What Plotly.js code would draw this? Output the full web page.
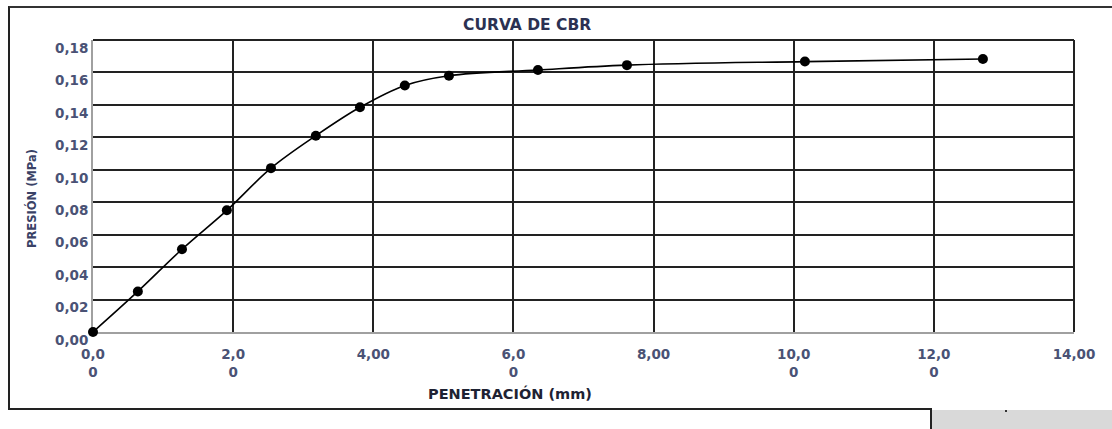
<!DOCTYPE html>
<html>
<head>
<meta charset="utf-8">
<script src="https://cdn.plot.ly/plotly-3.0.1.min.js"></script>
<style>
  html, body { margin: 0; padding: 0; background: #ffffff; }
  #wrap { position: relative; width: 1112px; height: 429px; overflow: hidden; }
  #chart { position: absolute; left: 0; top: 0; width: 1112px; height: 429px; }
  .frame { position: absolute; pointer-events: none; }
</style>
</head>
<body>
<div id="wrap">
  <div id="chart"></div>
  <div class="frame" style="left:8px; top:6px; width:1120px; height:402px; border-left:2px solid #222; border-top:2px solid #333;"></div>
  <div class="frame" style="left:8px; top:408px; width:922px; height:30px; border-top:2px solid #222; border-right:2px solid #222;"></div>
  <div class="frame" style="left:932px; top:410px; width:180px; height:19px; background:#d9d9d9;"></div>
  <div class="frame" style="left:1005px; top:410px; width:2px; height:2px; background:#333;"></div>
</div>
<script>
// ---- data ----
const penetracion = [0, 0.64, 1.27, 1.91, 2.54, 3.18, 3.81, 4.45, 5.08, 6.35, 7.62, 10.16, 12.70];
const presion     = [0, 0.025, 0.051, 0.075, 0.101, 0.121, 0.1385, 0.152, 0.158, 0.1615, 0.1645, 0.1667, 0.1683];
const xTickVals   = [0, 2, 4, 6, 8, 10, 12, 14];
const xTickText   = ["0,0<br>0", "2,0<br>0", "4,00", "6,0<br>0", "8,00", "10,0<br>0", "12,0<br>0", "14,00"];
const yTickVals   = [0, 0.02, 0.04, 0.06, 0.08, 0.10, 0.12, 0.14, 0.16, 0.18];
const yTickText   = ["0,00", "0,02", "0,04", "0,06", "0,08", "0,10", "0,12", "0,14", "0,16", "0,18"];
const chartTitle  = "CURVA DE CBR";
const xTitle      = "PENETRACIÓN (mm)";
const yTitle      = "PRESIÓN (MPa)";

const tickFont = { family: "DejaVu Sans", size: 13.5, color: "#4a5275", weight: "bold" };

const trace = {
  x: penetracion,
  y: presion,
  type: "scatter",
  mode: "lines+markers",
  cliponaxis: false,
  line: { color: "#000000", width: 1.6, shape: "spline", smoothing: 1 },
  marker: { color: "#000000", size: 10 },
  hoverinfo: "skip",
  showlegend: false
};

const layout = {
  width: 1112,
  height: 429,
  margin: { l: 93, r: 38, t: 40, b: 97, pad: 0 },
  paper_bgcolor: "#ffffff",
  plot_bgcolor: "#ffffff",
  xaxis: {
    range: [0, 14],
    tickvals: xTickVals,
    ticktext: xTickText,
    tickfont: tickFont,
    ticks: "",
    ticklabelstandoff: 9,
    showgrid: true,
    gridcolor: "#222222",
    gridwidth: 2,
    zeroline: false,
    showline: true,
    linecolor: "#a0a0a0",
    linewidth: 2,
    layer: "below traces",
    fixedrange: true
  },
  yaxis: {
    range: [0, 0.18],
    tickvals: yTickVals,
    ticktext: yTickText,
    tickfont: tickFont,
    ticks: "",
    ticklabelshift: 8,
    ticklabelstandoff: 0,
    showgrid: true,
    gridcolor: "#222222",
    gridwidth: 2,
    zeroline: false,
    showline: true,
    linecolor: "#a0a0a0",
    linewidth: 2,
    layer: "below traces",
    fixedrange: true
  },
  annotations: [
    {
      text: chartTitle, showarrow: false,
      xref: "paper", yref: "paper",
      x: 0.442, xanchor: "center",
      y: 1.05, yanchor: "middle",
      font: { family: "DejaVu Sans", size: 15.5, color: "#2b3152", weight: "bold" }
    },
    {
      text: xTitle, showarrow: false,
      xref: "paper", yref: "paper",
      x: 0.425, xanchor: "center",
      y: -0.209, yanchor: "middle",
      font: { family: "DejaVu Sans", size: 14.5, color: "#1e2233", weight: "bold" }
    },
    {
      text: yTitle, showarrow: false, textangle: -90,
      xref: "paper", yref: "paper",
      x: -0.0622, xanchor: "center",
      y: 0.459, yanchor: "middle",
      font: { family: "DejaVu Sans", size: 11.5, color: "#3a4266", weight: "bold" }
    }
  ],
  shapes: [
    { type: "line", xref: "paper", yref: "paper", layer: "below", x0: 0, x1: 1, y0: 1, y1: 1, line: { color: "#222222", width: 2 } },
    { type: "line", xref: "paper", yref: "paper", layer: "below", x0: 1, x1: 1, y0: 0, y1: 1, line: { color: "#222222", width: 2 } }
  ]
};

Plotly.newPlot("chart", [trace], layout, { displayModeBar: false, staticPlot: true });
</script>
</body>
</html>
